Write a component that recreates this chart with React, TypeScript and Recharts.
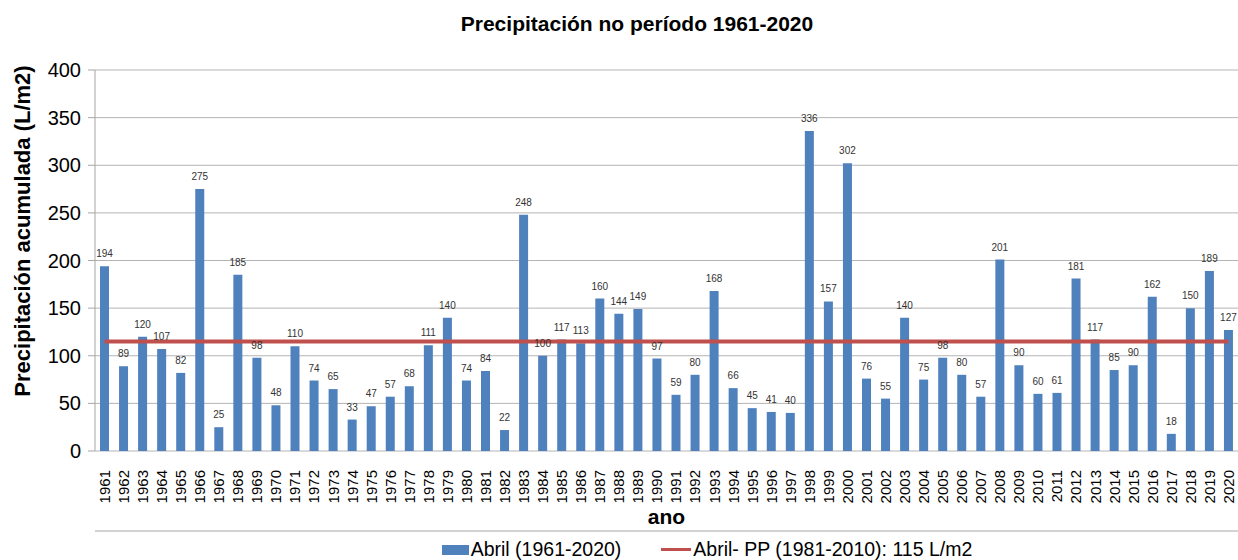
import React from 'react';
import { ComposedChart, Bar, Line, XAxis, YAxis, CartesianGrid, Legend, LabelList } from 'recharts';

const years = [
  '1961', '1962', '1963', '1964', '1965', '1966', '1967', '1968', '1969', '1970',
  '1971', '1972', '1973', '1974', '1975', '1976', '1977', '1978', '1979', '1980',
  '1981', '1982', '1983', '1984', '1985', '1986', '1987', '1988', '1989', '1990',
  '1991', '1992', '1993', '1994', '1995', '1996', '1997', '1998', '1999', '2000',
  '2001', '2002', '2003', '2004', '2005', '2006', '2007', '2008', '2009', '2010',
  '2011', '2012', '2013', '2014', '2015', '2016', '2017', '2018', '2019', '2020',
];

const abril = [
  194, 89, 120, 107, 82, 275, 25, 185, 98, 48,
  110, 74, 65, 33, 47, 57, 68, 111, 140, 74,
  84, 22, 248, 100, 117, 113, 160, 144, 149, 97,
  59, 80, 168, 66, 45, 41, 40, 336, 157, 302,
  76, 55, 140, 75, 98, 80, 57, 201, 90, 60,
  61, 181, 117, 85, 90, 162, 18, 150, 189, 127,
];

const mediaPP = 115;
const yTicks = [0, 50, 100, 150, 200, 250, 300, 350, 400];
const edgeTicks = Array.from({ length: years.length + 1 }, (_, i) => i);

const data = years.map((ano, i) => ({ ano, abril: abril[i], pp: mediaPP }));

const BLUE = '#4f81bd';
const RED = '#c0504d';
const FONT = '"Liberation Sans", Arial, sans-serif';

const YearTick = (props: any) => {
  const { x, y, payload } = props;
  return (
    <g transform={`translate(${x},${y + 11})`}>
      <text x={0} y={0} dy="0.36em" transform="rotate(-90)" textAnchor="end" fontSize={15} fill="#000" fontFamily={FONT}>
        {payload.value}
      </text>
    </g>
  );
};

const YLabel = () => (
  <text x={22} y={231} transform="rotate(-90, 22, 231)" textAnchor="middle" dominantBaseline="central" fontSize={22} fontWeight="bold" fill="#000" fontFamily={FONT}>
    Precipitación acumulada (L/m2)
  </text>
);

const renderLegend = () => (
  <div style={{ display: 'flex', justifyContent: 'center', alignItems: 'center', fontSize: 19.5, color: '#000', fontFamily: FONT, paddingTop: 6, paddingLeft: 176 }}>
    <span style={{ display: 'inline-block', width: 27, height: 10, background: BLUE, marginRight: 2 }} />
    <span>Abril (1961-2020)</span>
    <span style={{ display: 'inline-block', width: 30, height: 3, background: RED, marginLeft: 40, marginRight: 2 }} />
    <span>Abril- PP (1981-2010): 115 L/m2</span>
  </div>
);

export default function App() {
  return (
    <div style={{ position: 'absolute', left: 0, top: 0, width: 1238, height: 560, background: '#fff', fontFamily: FONT }}>
      <div style={{ position: 'absolute', top: 12, left: 0, width: 1274, textAlign: 'center', fontSize: 21, fontWeight: 'bold', color: '#000' }}>
        Precipitación no período 1961-2020
      </div>
      <ComposedChart width={1238} height={560} data={data} margin={{ top: 70, right: 0, left: 0, bottom: 0 }}>
        <CartesianGrid vertical={false} stroke="#b4b4b4" />
        <XAxis
          xAxisId="edges"
          type="number"
          domain={[0, years.length]}
          ticks={edgeTicks}
          tick={false}
          axisLine={{ stroke: '#a6a6a6' }}
          tickLine={{ stroke: '#a6a6a6' }}
          tickSize={6}
          height={1}
          allowDataOverflow
        />
        <XAxis
          dataKey="ano"
          interval={0}
          tick={<YearTick />}
          tickLine={false}
          axisLine={false}
          height={80}
          label={{ value: 'ano', position: 'insideBottom', offset: 7, fontSize: 21, fontWeight: 'bold', fill: '#000', fontFamily: FONT }}
        />
        <YAxis
          width={95}
          domain={[0, 400]}
          ticks={yTicks}
          tick={{ fontSize: 20, fill: '#000', fontFamily: FONT }}
          tickLine={{ stroke: '#a6a6a6' }}
          tickSize={7}
          tickMargin={7}
          axisLine={{ stroke: '#a6a6a6' }}
          label={<YLabel />}
        />
        <Legend verticalAlign="bottom" height={28} content={renderLegend} />
        <Bar dataKey="abril" fill={BLUE} barSize={9} isAnimationActive={false} name="Abril (1961-2020)">
          <LabelList dataKey="abril" position="top" offset={9} fontSize={10} fill="#333" fontFamily={FONT} />
        </Bar>
        <Line dataKey="pp" stroke={RED} strokeWidth={4} dot={false} activeDot={false} isAnimationActive={false} name="Abril- PP (1981-2010): 115 L/m2" />
      </ComposedChart>
    </div>
  );
}
